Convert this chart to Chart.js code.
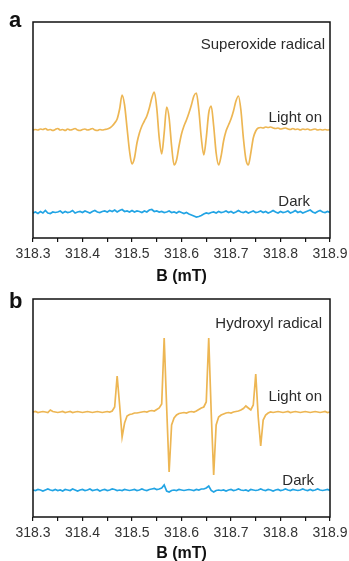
<!DOCTYPE html>
<html lang="en">
  <head>
    <meta charset="UTF-8" />
    <title>EPR spectra</title>
    <script src="https://cdn.jsdelivr.net/npm/chart.js"></script>
    <style>
      body { margin: 0; background: #fff; overflow: hidden; }
      canvas { position: absolute; left: 0; }
      #chartA { top: 0; }
      #chartB { top: 286px; }
    </style>
  </head>
  <body>
    <canvas id="chartA" width="349" height="286"></canvas>
    <canvas id="chartB" width="349" height="277"></canvas>

    <script>
      // magnetic field (mT), one point every 0.005 mT
      const campo = [
        318.300, 318.305, 318.310, 318.315, 318.320, 318.325, 318.330, 318.335, 318.340, 318.345,
        318.350, 318.355, 318.360, 318.365, 318.370, 318.375, 318.380, 318.385, 318.390, 318.395,
        318.400, 318.405, 318.410, 318.415, 318.420, 318.425, 318.430, 318.435, 318.440, 318.445,
        318.450, 318.455, 318.460, 318.465, 318.470, 318.475, 318.480, 318.485, 318.490, 318.495,
        318.500, 318.505, 318.510, 318.515, 318.520, 318.525, 318.530, 318.535, 318.540, 318.545,
        318.550, 318.555, 318.560, 318.565, 318.570, 318.575, 318.580, 318.585, 318.590, 318.595,
        318.600, 318.605, 318.610, 318.615, 318.620, 318.625, 318.630, 318.635, 318.640, 318.645,
        318.650, 318.655, 318.660, 318.665, 318.670, 318.675, 318.680, 318.685, 318.690, 318.695,
        318.700, 318.705, 318.710, 318.715, 318.720, 318.725, 318.730, 318.735, 318.740, 318.745,
        318.750, 318.755, 318.760, 318.765, 318.770, 318.775, 318.780, 318.785, 318.790, 318.795,
        318.800, 318.805, 318.810, 318.815, 318.820, 318.825, 318.830, 318.835, 318.840, 318.845,
        318.850, 318.855, 318.860, 318.865, 318.870, 318.875, 318.880, 318.885, 318.890, 318.895,
        318.900
      ];

      const xTicks = [318.3, 318.4, 318.5, 318.6, 318.7, 318.8, 318.9];

      // panel a - superoxide radical (a.u.)
      const superLight = [
        108, 108.5, 108, 109, 108.5, 109.5, 108, 108.5, 107.5, 108.5,
        109.5, 108, 108.5, 107.5, 109, 108, 108.5, 109.5, 108, 107.5,
        108.5, 109, 108, 108.5, 109.5, 108, 107.5, 108.5, 108, 108.5,
        109, 110, 112, 115, 119, 129, 143, 133, 110, 87,
        74, 80, 95, 105, 112, 117, 122, 130, 140, 146,
        130, 100, 84, 105, 131, 120, 92, 73, 78, 92,
        104, 112, 118, 125, 133, 142, 145, 128, 100, 83,
        100, 125, 132, 112, 85, 73, 82, 97, 107, 113,
        119, 127, 137, 142, 128, 100, 79, 73, 85, 100,
        107, 110, 110.5, 110, 111, 110.5, 111, 110, 109.5, 110,
        109, 109.5, 110, 109, 108.5, 109.5, 108.5, 109, 108, 109,
        108.5, 109, 108, 108.5, 109, 108, 108.5, 108, 108.5, 108,
        108.5
      ];
      const superDark = [
        25, 26, 24.5, 26.5, 25, 27.5, 25, 24.5, 26, 25.5,
        26, 27, 25, 26.5, 25.5, 26, 27.5, 25, 26, 26.5,
        25.5, 27, 26, 25, 26.5, 27.5, 26, 25.5, 26.5, 27,
        26, 27.5, 26.5, 28, 26, 27.5, 28.5, 26.5, 27, 26,
        27.5, 26, 27, 26.5, 25.5, 27, 26, 28, 28.5, 26.5,
        27, 26, 26.5, 25.5, 26, 27, 25.5, 26, 25, 26.5,
        25.5, 24.5, 25.5, 24, 23, 22, 21, 21.5, 22.5, 24,
        25, 24.5, 25.5, 26, 25, 26.5, 25.5, 26, 27, 25.5,
        26.5, 25, 26, 27.5, 26, 25.5, 26.5, 25, 26, 27,
        25.5, 26, 27, 25.5, 26.5, 25, 26, 27.5, 26, 25,
        26.5, 25.5, 26, 27, 25, 26, 27.5, 25.5, 26.5, 25,
        26, 27, 28, 26, 25, 26.5, 27.5, 26, 25.5, 26.5,
        25.5
      ];

      // panel b - hydroxyl radical (a.u.)
      const hidroxLight = [
        105, 105.5, 104.5, 105, 105.5, 105, 104.5, 107, 105.5, 105,
        104.5, 105, 105.5, 104.5, 105, 105.5, 104.5, 105, 105.5, 105,
        104.5, 105, 105.5, 105, 104.5, 105, 105.5, 105, 104.5, 105,
        105.5, 105, 106, 110, 141, 112, 80, 94, 101, 102.5,
        103, 104, 104, 104.5, 105, 105.5, 105, 106, 106.5, 106,
        107.5, 109, 113, 179, 110, 45, 92, 99, 102, 103.5,
        104, 104.5, 104, 105, 105.5, 105, 106, 107.5, 109, 110,
        115, 179, 105, 42, 92, 100, 102, 103, 104, 104.5,
        104, 105, 105.5, 106, 107, 108.5, 111, 109, 107, 112,
        143, 100, 71, 97, 102, 104, 105, 104.5, 105, 105.5,
        105, 104.5, 105, 105.5, 104.5, 105, 105.5, 105, 104.5, 105,
        105.5, 105, 104.5, 105, 105.5, 105, 104.5, 105, 105.5, 104.5,
        105
      ];
      const hidroxDark = [
        27, 26.5, 27.5, 27, 26, 27, 28, 27, 26.5, 27.5,
        26.5, 27, 26, 27.5, 27, 26.5, 28, 27, 26, 27,
        27.5, 26.5, 27, 28, 26.5, 27, 27.5, 26, 27, 27.5,
        26.5, 27, 28, 27.5, 26.5, 27, 26.5, 27.5, 27, 26.5,
        27, 27.5, 26.5, 27, 28, 27, 26.5, 27.5, 28, 28.5,
        27.5, 28, 29, 32, 26, 25, 26.5, 27, 26.5, 27.5,
        27, 26.5, 27, 27.5, 27, 26.5, 27.5, 27, 28, 28,
        29, 31, 26.5, 25, 26.5, 27, 26.5, 27, 26, 27,
        27.5, 26.5, 27, 28, 27, 26.5, 27, 26, 27.5, 27,
        26.5, 27, 28, 27, 26.5, 27.5, 27, 26, 27, 27.5,
        26.5, 27, 28, 27, 26.5, 27.5, 27, 26.5, 27, 28,
        27, 26.5, 27.5, 26.5, 27, 28, 27, 26.5, 27, 27.5,
        26.5
      ];

      const corLuz = "#EDB653";
      const corEscuro = "#22A4E4";
      const fonte = "'Liberation Sans', Arial, sans-serif";

      function pares(valores) {
        return campo.map(function (b, i) {
          return { x: b, y: valores[i] };
        });
      }

      // moldura, letra do painel e textos dentro do gráfico
      const plugMoldura = {
        id: "moldura",
        afterDraw: function (chart) {
          const ctx = chart.ctx;
          const a = chart.chartArea;
          const opt = chart.options.plugins.moldura;
          ctx.save();
          ctx.strokeStyle = "#111";
          ctx.lineWidth = 1.5;
          ctx.strokeRect(a.left, a.top, a.right - a.left, a.bottom - a.top);

          ctx.fillStyle = "#111";
          ctx.font = "bold 22px " + fonte;
          ctx.textAlign = "left";
          ctx.textBaseline = "alphabetic";
          ctx.fillText(opt.letra, 9, opt.letraY);

          ctx.fillStyle = "#2b2b2b";
          ctx.font = "15px " + fonte;
          ctx.textAlign = "right";
          opt.textos.forEach(function (t) {
            ctx.fillText(t.texto, t.x, t.y);
          });
          ctx.restore();
        },
      };

      function montar(id, luz, escuro, yMax, padTop, eixoAltura, suave, opt) {
        const config = {
          type: "line",
          data: {
            datasets: [
              {
                label: "Light on",
                data: pares(luz),
                borderColor: corLuz,
                borderWidth: 1.7,
                pointRadius: 0,
                tension: suave ? 0.4 : 0,
                cubicInterpolationMode: suave ? "monotone" : "default",
              },
              {
                label: "Dark",
                data: pares(escuro),
                borderColor: corEscuro,
                borderWidth: 1.7,
                pointRadius: 0,
                tension: 0,
              },
            ],
          },
          options: {
            responsive: false,
            animation: false,
            devicePixelRatio: 1,
            layout: { padding: { left: 33, right: 19, top: padTop, bottom: 0 } },
            plugins: {
              legend: { display: false },
              tooltip: { enabled: false },
              moldura: opt,
            },
            scales: {
              x: {
                type: "linear",
                min: 318.3,
                max: 318.9,
                afterFit: function (s) {
                  s.height = eixoAltura;
                  s.paddingLeft = 0;
                  s.paddingRight = 0;
                },
                ticks: {
                  stepSize: 0.05,
                  autoSkip: false,
                  maxRotation: 0,
                  padding: 4,
                  color: "#333",
                  font: { size: 14, family: fonte },
                  callback: function (v) {
                    const t = xTicks.find(function (k) {
                      return Math.abs(k - v) < 0.001;
                    });
                    return t === undefined ? "" : t.toFixed(1);
                  },
                },
                grid: {
                  drawOnChartArea: false,
                  drawTicks: true,
                  tickLength: 4,
                  tickColor: "#111",
                  lineWidth: 1.2,
                },
                border: { display: false },
                title: {
                  display: true,
                  text: "B (mT)",
                  color: "#111",
                  font: { size: 16, weight: "bold", family: fonte },
                  padding: { top: 0, bottom: 0 },
                },
              },
              y: {
                display: false,
                min: 0,
                max: yMax,
              },
            },
          },
          plugins: [plugMoldura],
        };
        return new Chart(document.getElementById(id), config);
      }

      montar("chartA", superLight, superDark, 216, 22, 48, true, {
        letra: "a",
        letraY: 27,
        textos: [
          { texto: "Superoxide radical", x: 325, y: 49 },
          { texto: "Light on", x: 322, y: 122 },
          { texto: "Dark", x: 310, y: 206 },
        ],
      });

      montar("chartB", hidroxLight, hidroxDark, 218, 13, 46, false, {
        letra: "b",
        letraY: 22,
        textos: [
          { texto: "Hydroxyl radical", x: 322, y: 327.5 - 286 },
          { texto: "Light on", x: 322, y: 400.5 - 286 },
          { texto: "Dark", x: 314, y: 484.5 - 286 },
        ],
      });
    </script>
  </body>
</html>
